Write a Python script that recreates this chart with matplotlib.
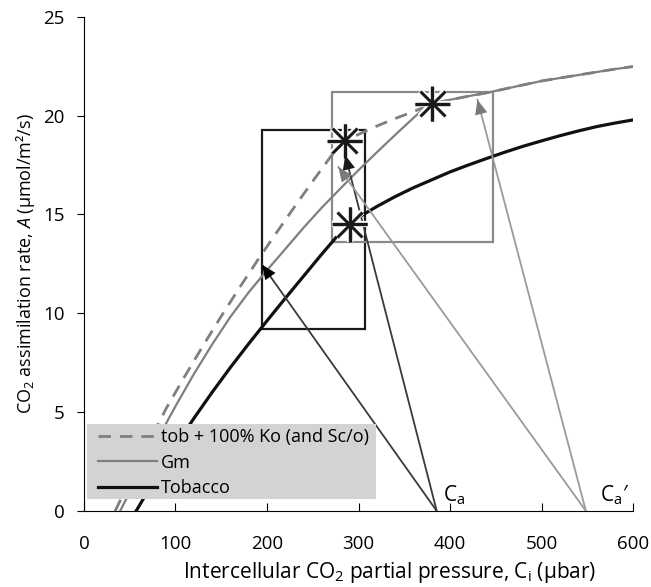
import matplotlib
matplotlib.use("Agg")
import matplotlib.pyplot as plt
from matplotlib.patches import Rectangle, FancyArrowPatch
from matplotlib.lines import Line2D
import matplotlib.patheffects as pe

plt.rcParams["font.family"] = ["Open Sans", "DejaVu Sans"]
plt.rcParams["mathtext.fontset"] = "custom"
plt.rcParams["mathtext.rm"] = "Open Sans"
plt.rcParams["mathtext.it"] = "Open Sans:italic"

# A/Ci curves
tob_x = [57, 80, 100, 120, 140, 160, 180, 200, 220, 240, 260, 280, 290, 300, 320, 340, 360,
         380, 400, 420, 440, 460, 480, 500, 520, 540, 560, 580, 600]
tob_y = [0, 1.8, 3.28, 4.68, 6.0, 7.26, 8.46, 9.62, 10.76, 11.88, 13.0, 14.08, 14.5, 14.85, 15.4,
         15.9, 16.35, 16.75, 17.15, 17.5, 17.83, 18.15, 18.45, 18.72, 18.98, 19.22, 19.44, 19.62, 19.78]

gm_x = [39.5, 60, 80, 100, 120, 140, 160, 180, 200, 220, 240, 260, 280, 300, 320, 340, 360, 370,
        380, 400, 420, 440, 460, 480, 500, 520, 540, 560, 580, 600]
gm_y = [0, 1.85, 3.6, 5.3, 6.92, 8.42, 9.82, 11.06, 12.18, 13.25, 14.33, 15.35, 16.3, 17.24,
        18.14, 19.02, 19.88, 20.3, 20.6, 20.8, 20.98, 21.15, 21.35, 21.55, 21.75, 21.9, 22.05,
        22.2, 22.35, 22.48]

ko_x = [34, 50, 70, 90, 110, 130, 150, 170, 190, 210, 230, 250, 270, 285, 300, 320, 340, 360,
        380, 400, 420, 440, 460, 480, 500, 520, 540, 560, 580, 600]
ko_y = [0, 1.5, 3.4, 5.2, 6.8, 8.35, 9.85, 11.3, 12.7, 14.05, 15.38, 16.68, 17.95, 18.72, 19.05,
        19.47, 19.85, 20.2, 20.58, 20.8, 20.98, 21.15, 21.35, 21.55, 21.75, 21.9, 22.05, 22.2,
        22.35, 22.48]

# operating points (stars)
star_x = [285, 290.5, 380.5]
star_y = [18.72, 14.5, 20.6]

# boxes: (x0, x1, y0, y1)
black_box = [194.5, 307, 9.23, 19.27]
grey_box = [271, 447, 13.6, 21.2]

# supply lines: from Ca / Ca' on the x axis to the curves
ca = 385.5
ca_prime = 548.5
supply_from = [ca, ca, ca_prime, ca_prime]
supply_to_x = [194.5, 285.5, 278, 430]
supply_to_y = [12.46, 18.0, 17.4, 20.8]

labels = ["tob + 100% Ko (and Sc/o)", "Gm", "Tobacco"]

fig = plt.figure(figsize=(6.51, 5.87), dpi=100)
ax = fig.add_axes([0.129, 0.1295, 0.8434, 0.842])

grey = "#7f7f7f"
dash = (0, (4.5, 3.2))

# boxes
ax.add_patch(Rectangle((black_box[0], black_box[2]), black_box[1] - black_box[0],
                       black_box[3] - black_box[2], fill=False, ec="#1a1a1a", lw=1.6, zorder=2))
ax.add_patch(Rectangle((grey_box[0], grey_box[2]), grey_box[1] - grey_box[0],
                       grey_box[3] - grey_box[2], fill=False, ec="#8a8a8a", lw=1.6, zorder=2))

# curves
ax.plot(ko_x, ko_y, color=grey, lw=2.0, ls=dash, zorder=3)
ax.plot(gm_x, gm_y, color=grey, lw=1.6, zorder=3)
ax.plot(tob_x, tob_y, color="#111111", lw=2.3, zorder=3)

# supply lines with arrow heads
sup_cols = ["#3a3a3a", "#3a3a3a", "#9a9a9a", "#9a9a9a"]
head_cols = ["#000000", "#1a1a1a", "#7a7a7a", "#7a7a7a"]
for x0, x1, y1, c, hc in zip(supply_from, supply_to_x, supply_to_y, sup_cols, head_cols):
    ax.plot([x0, x1], [0, y1], color=c, lw=1.3, zorder=4)
    arr = FancyArrowPatch((x0, 0), (x1, y1), arrowstyle="-|>,head_length=0.7,head_width=0.3",
                          mutation_scale=15, color=hc, lw=0, shrinkA=0, shrinkB=0, zorder=4)
    ax.add_patch(arr)

# stars
halo = [pe.withStroke(linewidth=4.5, foreground="white")]
ax.plot(star_x, star_y, ls="none", marker="+", ms=25, mew=2.3, color="#1a1a1a",
        path_effects=halo, zorder=6)
ax.plot(star_x, star_y, ls="none", marker="x", ms=18, mew=2.2, color="#1a1a1a",
        path_effects=halo, zorder=6)
ax.plot(star_x, star_y, ls="none", marker="+", ms=25, mew=2.3, color="#1a1a1a", zorder=7)

# Ca labels
ax.text(ca + 7, 0.5, r"C$_\mathregular{a}$", fontsize=15, zorder=5)
ax.text(ca_prime + 15, 0.5, r"C$_\mathregular{a}$′", fontsize=15, zorder=5)

# legend on a grey panel
ax.add_patch(Rectangle((0.005, 0.024), 0.527, 0.152, transform=ax.transAxes,
                       fc="#d3d3d3", ec="none", zorder=8))
handles = [Line2D([], [], color=grey, lw=2.0, ls=dash),
           Line2D([], [], color=grey, lw=1.6),
           Line2D([], [], color="#111111", lw=2.3)]
leg = ax.legend(handles, labels, loc="upper left", bbox_to_anchor=(0.025, 0.168),
                frameon=False, fontsize=13, handlelength=3.3, handletextpad=0.2,
                labelspacing=0.42, borderpad=0, borderaxespad=0)
leg.set_zorder(9)

ax.set_xlim(0, 600)
ax.set_ylim(0, 25)
ax.set_xticks(range(0, 601, 100))
ax.set_yticks(range(0, 26, 5))
ax.spines["top"].set_visible(False)
ax.spines["right"].set_visible(False)
ax.tick_params(axis="x", direction="in", length=6, labelsize=13.5, pad=17)
ax.tick_params(axis="y", direction="out", length=5, labelsize=13.5, pad=9)

ax.set_xlabel(r"Intercellular CO$_\mathregular{2}$ partial pressure, C$_\mathregular{i}$ (µbar)",
              fontsize=15)
ax.xaxis.set_label_coords(0.557, -0.1)
ax.set_ylabel(r"CO$_\mathregular{2}$ assimilation rate, $\mathit{A}$ (µmol/m²/s)",
              fontsize=13, labelpad=4)

fig.savefig("out.png", dpi=100)
